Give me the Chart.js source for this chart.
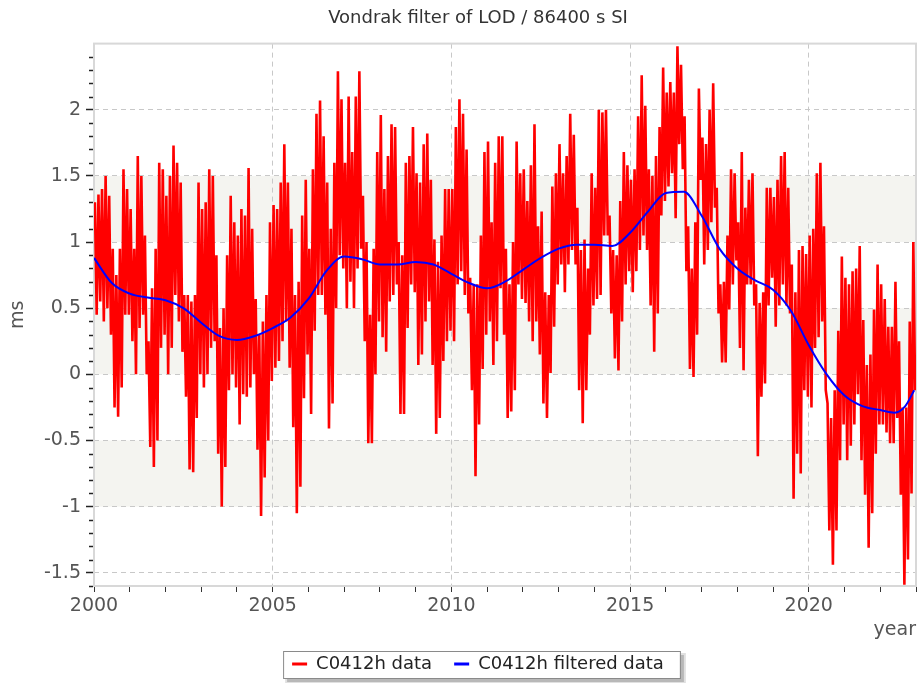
<!DOCTYPE html>
<html>
<head>
<meta charset="utf-8">
<script src="https://cdn.jsdelivr.net/npm/chart.js@4/dist/chart.umd.min.js"></script>
<style>
  html, body { margin: 0; padding: 0; background: #ffffff; }
  #wrap { width: 919px; height: 683px; position: relative; }
</style>
</head>
<body>
<div id="wrap"><canvas id="c" width="919" height="683"></canvas></div>
<script>
// ---- data ----
const chartTitle = 'Vondrak filter of LOD / 86400 s SI';
const seriesNames = ['C0412h data', 'C0412h filtered data'];
// red series: envelope per 0.1-year bin starting 2000.0 (upper spike, lower spike)
const redStart = 2000.0;
const redStep = 0.1;
const redHigh = [
 1.30,1.36,1.40,1.50,1.35,0.95,0.75,0.95,1.55,1.40,
 1.25,0.95,1.65,1.50,1.05,0.25,0.65,0.95,1.60,1.55,
 1.35,1.50,1.73,1.60,1.45,0.60,0.60,0.55,0.60,1.45,
 1.25,1.30,1.55,1.50,0.90,0.35,0.50,0.90,1.35,1.15,
 1.05,1.25,1.20,1.56,1.10,0.57,0.30,0.40,0.60,1.15,
 1.28,1.25,1.45,1.74,1.45,1.10,0.60,0.70,1.20,1.47,
 0.95,1.55,1.97,2.07,1.80,1.45,1.10,1.60,2.29,2.08,
 1.60,2.10,1.68,2.10,2.29,1.35,1.00,0.45,0.95,1.68,
 1.96,1.40,1.65,1.89,1.87,1.00,0.90,1.60,1.65,1.87,
 1.52,1.45,1.74,1.82,1.47,1.02,0.85,1.05,1.40,1.40,
 1.40,1.87,2.08,1.97,1.70,0.73,0.68,0.68,1.05,1.68,
 1.76,1.15,1.60,1.80,1.80,0.95,0.68,1.00,1.76,1.52,
 1.55,1.31,1.58,1.89,1.12,1.23,0.62,0.60,1.42,1.52,
 1.74,1.52,1.65,1.97,1.81,1.26,0.94,1.02,0.80,1.52,
 1.41,2.00,1.98,2.00,1.20,0.94,0.90,1.31,1.68,1.58,
 1.47,1.55,1.95,2.26,2.03,1.55,1.50,1.65,1.87,2.32,
 2.13,2.21,2.13,2.48,2.34,1.95,1.12,0.80,1.15,2.16,
 1.79,1.74,2.00,2.20,1.41,0.68,0.70,1.05,1.55,1.52,
 1.15,1.68,1.26,1.47,1.52,0.68,0.54,0.62,1.41,1.41,
 1.34,1.47,1.65,1.68,1.41,0.83,0.62,0.94,0.97,0.91,
 1.05,1.10,1.52,1.60,1.12,-0.22,-0.33,-0.12,0.33,0.89,
 0.73,0.68,0.78,0.80,0.97,0.41,0.07,0.15,0.49,0.83,
 0.68,0.57,0.36,0.36,0.70,0.25,-0.25,-0.25,0.40,1.00
];
const redLow = [
 0.45,0.55,0.40,0.50,0.30,-0.25,-0.32,-0.10,0.45,0.45,
 0.25,0.00,0.35,0.45,0.00,-0.55,-0.70,-0.50,0.20,0.30,
 0.00,0.20,0.60,0.40,0.17,-0.17,-0.72,-0.74,-0.33,0.00,
 -0.10,0.00,0.20,0.25,-0.60,-1.00,-0.70,-0.12,0.00,-0.10,
 -0.38,-0.15,-0.17,-0.10,0.00,-0.57,-1.07,-0.78,-0.50,-0.05,
 0.05,0.10,0.25,0.40,0.05,-0.40,-1.05,-0.85,-0.18,0.15,
 -0.30,0.33,0.60,0.60,0.45,-0.41,-0.22,0.50,0.90,0.80,
 0.50,0.70,0.50,0.80,0.95,0.25,-0.52,-0.52,0.00,0.40,
 0.28,0.17,0.55,0.60,0.68,-0.30,-0.30,0.35,0.68,0.62,
 0.07,0.15,0.40,0.55,0.07,-0.45,-0.33,0.10,0.25,0.33,
 0.25,0.68,0.78,0.60,0.46,-0.12,-0.77,-0.38,0.04,0.30,
 0.40,0.07,0.25,0.65,0.30,-0.33,-0.28,-0.12,0.68,0.57,
 0.54,0.40,0.25,0.40,0.15,-0.22,-0.33,0.01,0.36,0.68,
 0.83,0.62,0.83,0.94,0.83,-0.12,-0.37,-0.12,0.30,0.52,
 0.57,0.60,1.05,1.05,0.46,0.12,0.03,0.40,0.68,0.78,
 0.62,0.78,0.94,1.05,0.94,0.52,0.17,0.46,1.20,1.31,
 1.42,1.52,1.18,1.74,1.55,0.78,0.04,-0.02,0.30,1.47,
 0.83,0.94,1.15,1.26,0.46,0.09,0.09,0.49,0.68,0.86,
 0.20,0.03,0.68,0.68,0.52,-0.62,-0.17,-0.07,0.52,0.73,
 0.36,0.52,0.68,0.52,0.46,-0.94,-0.60,-0.75,-0.12,-0.17,
 -0.25,0.20,0.28,0.40,-0.12,-1.18,-1.44,-1.18,-0.65,-0.38,
 -0.65,-0.54,-0.38,-0.15,-0.65,-0.91,-1.31,-1.05,-0.60,-0.38,
 -0.38,-0.44,-0.52,-0.52,-0.33,-0.91,-1.59,-1.40,-0.90,-0.12
];
// blue filtered series
const blueYears = [2000.0,2000.5,2001.0,2001.5,2002.0,2002.5,2003.0,2003.5,2004.0,2004.5,
  2005.0,2005.5,2006.0,2006.5,2007.0,2007.5,2008.0,2008.5,2009.0,2009.5,
  2010.0,2010.5,2011.0,2011.5,2012.0,2012.5,2013.0,2013.5,2014.0,2014.5,
  2015.0,2015.5,2016.0,2016.5,2017.0,2017.5,2018.0,2018.5,2019.0,2019.5,
  2020.0,2020.5,2021.0,2021.5,2022.0,2022.4,2022.7,2022.95];
const blueValues = [0.88,0.69,0.61,0.58,0.56,0.50,0.39,0.29,0.26,0.29,
  0.35,0.43,0.57,0.78,0.89,0.87,0.83,0.83,0.85,0.83,
  0.76,0.69,0.65,0.70,0.79,0.88,0.95,0.98,0.98,0.97,
  1.07,1.23,1.37,1.38,1.20,0.95,0.80,0.71,0.64,0.48,
  0.22,0.00,-0.16,-0.24,-0.27,-0.29,-0.24,-0.12];
// axis settings
const xMin = 2000, xMax = 2023, xLabelEvery = 5;
const yMin = -1.6, yMax = 2.5, yLabelEvery = 0.5, yMinorStep = 0.1;
const shadeBands = [[1.0, 1.5], [0.0, 0.5], [-1.0, -0.5]];

// ---- build datasets ----
const redPoints = [];
for (let k = 0; k < redHigh.length; k++) {
  const t = redStart + k * redStep;
  redPoints.push({x: t + redStep * 0.25, y: redHigh[k]});
  redPoints.push({x: t + redStep * 0.75, y: redLow[k]});
}
const bluePoints = blueYears.map((x, i) => ({x: x, y: blueValues[i]}));

const FONT = "'DejaVu Sans', Verdana, sans-serif";
const isMajorY = v => Math.abs(Math.round(v * 10) % 5) === 0;

const decorPlugin = {
  id: 'decor',
  beforeDraw(chart) {
    const ctx = chart.ctx, a = chart.chartArea, ys = chart.scales.y;
    ctx.save();
    ctx.fillStyle = '#f4f4f0';
    shadeBands.forEach(b => {
      const y1 = ys.getPixelForValue(b[1]), y0 = ys.getPixelForValue(b[0]);
      ctx.fillRect(a.left, y1, a.right - a.left, y0 - y1);
    });
    // legend frame with shadow
    const lg = chart.legend;
    if (lg && lg.legendHitBoxes && lg.legendHitBoxes.length) {
      const hb = lg.legendHitBoxes;
      const l = hb[0].left - 9, r = hb[hb.length - 1].left + hb[hb.length - 1].width + 16;
      const t = hb[0].top - 4, btm = hb[0].top + hb[0].height + 5;
      ctx.fillStyle = 'rgba(0,0,0,0.18)';
      ctx.fillRect(l + 4, t + 4, r - l, btm - t);
      ctx.fillStyle = 'rgba(0,0,0,0.12)';
      ctx.fillRect(l + 2, t + 2, r - l + 4, btm - t + 4);
      ctx.fillStyle = '#ffffff';
      ctx.fillRect(l, t, r - l, btm - t);
      ctx.strokeStyle = '#8a8a8a';
      ctx.lineWidth = 1;
      ctx.strokeRect(l + 0.5, t + 0.5, r - l, btm - t);
    }
    ctx.restore();
  },
  beforeDatasetsDraw(chart) {
    const ctx = chart.ctx, a = chart.chartArea, ys = chart.scales.y;
    ctx.save();
    ctx.strokeStyle = '#d8d8d8';
    ctx.lineWidth = 2;
    ctx.strokeRect(a.left, a.top, a.right - a.left, a.bottom - a.top);
    // minor y ticks
    ctx.strokeStyle = '#222';
    ctx.lineWidth = 1.5;
    ys.ticks.forEach(tk => {
      if (!isMajorY(tk.value) && tk.value < yMax - 0.05) {
        const py = Math.round(ys.getPixelForValue(tk.value)) + 0.5;
        ctx.beginPath();
        ctx.moveTo(a.left - 5, py);
        ctx.lineTo(a.left - 1, py);
        ctx.stroke();
      }
    });
    ctx.restore();
  }
};

new Chart(document.getElementById('c'), {
  type: 'line',
  data: {
    datasets: [
      {
        label: seriesNames[0], data: redPoints, borderColor: '#ff0000', backgroundColor: '#ff0000',
        borderWidth: 2.6, pointRadius: 0, tension: 0, order: 2, borderJoinStyle: 'miter'
      },
      {
        label: seriesNames[1], data: bluePoints, borderColor: '#0000ff', backgroundColor: '#0000ff',
        borderWidth: 2, pointRadius: 0, cubicInterpolationMode: 'monotone', order: 1
      }
    ]
  },
  options: {
    responsive: false,
    animation: false,
    events: [],
    layout: { padding: { left: 38, right: 1, top: 0, bottom: 0 } },
    plugins: {
      title: {
        display: true, text: chartTitle, color: '#333',
        font: { family: FONT, size: 18, weight: 'normal' },
        padding: { top: 8, bottom: 14 }
      },
      legend: {
        position: 'bottom',
        labels: {
          font: { family: FONT, size: 18 }, color: '#222',
          boxWidth: 15, boxHeight: 3, padding: 22,
          sort: (a, b) => a.datasetIndex - b.datasetIndex,
          generateLabels: (chart) => {
            const items = Chart.defaults.plugins.legend.labels.generateLabels(chart);
            items.forEach(it => { it.lineWidth = 0; it.fillStyle = it.strokeStyle; });
            return items;
          }
        }
      },
      tooltip: { enabled: false }
    },
    scales: {
      x: {
        type: 'linear', min: xMin, max: xMax,
        afterFit: s => { s.height = 47; },
        ticks: {
          stepSize: 1, autoSkip: false, maxRotation: 0, padding: 3,
          font: { family: FONT, size: 19 }, color: '#555',
          callback: v => (Math.round(v) % xLabelEvery === 0 ? String(Math.round(v)) : '')
        },
        grid: {
          color: c => (c.tick && Math.round(c.tick.value) % xLabelEvery === 0 && c.tick.value > xMin && c.tick.value < xMax) ? '#c8c8c8' : 'rgba(0,0,0,0)',
          tickColor: '#333', tickLength: 6, lineWidth: 1
        },
        border: { display: false, dash: [5, 4] },
        title: {
          display: true, text: 'year', align: 'end', color: '#555',
          font: { family: FONT, size: 19 }, padding: { top: 0, bottom: -8 }
        }
      },
      y: {
        min: yMin, max: yMax,
        afterFit: s => { s.width = 56; },
        ticks: {
          stepSize: yMinorStep, autoSkip: false, padding: 5,
          font: { family: FONT, size: 19 }, color: '#555',
          callback: v => (isMajorY(v) && v < yMax - 0.05) ? String(Math.round(v * 10) / 10) : ''
        },
        grid: {
          color: c => (c.tick && isMajorY(c.tick.value) && c.tick.value > yMin + 0.05 && c.tick.value < yMax - 0.05) ? '#c8c8c8' : 'rgba(0,0,0,0)',
          tickColor: c => (c.tick && isMajorY(c.tick.value) && c.tick.value < yMax - 0.05) ? '#222' : 'rgba(0,0,0,0)',
          tickLength: 8, tickWidth: 1.5, lineWidth: 1
        },
        border: { display: false, dash: [5, 4] },
        title: {
          display: true, text: 'ms', color: '#555',
          font: { family: FONT, size: 19 }, padding: { top: -31, bottom: 0 }
        }
      }
    }
  },
  plugins: [decorPlugin]
});
</script>
</body>
</html>
